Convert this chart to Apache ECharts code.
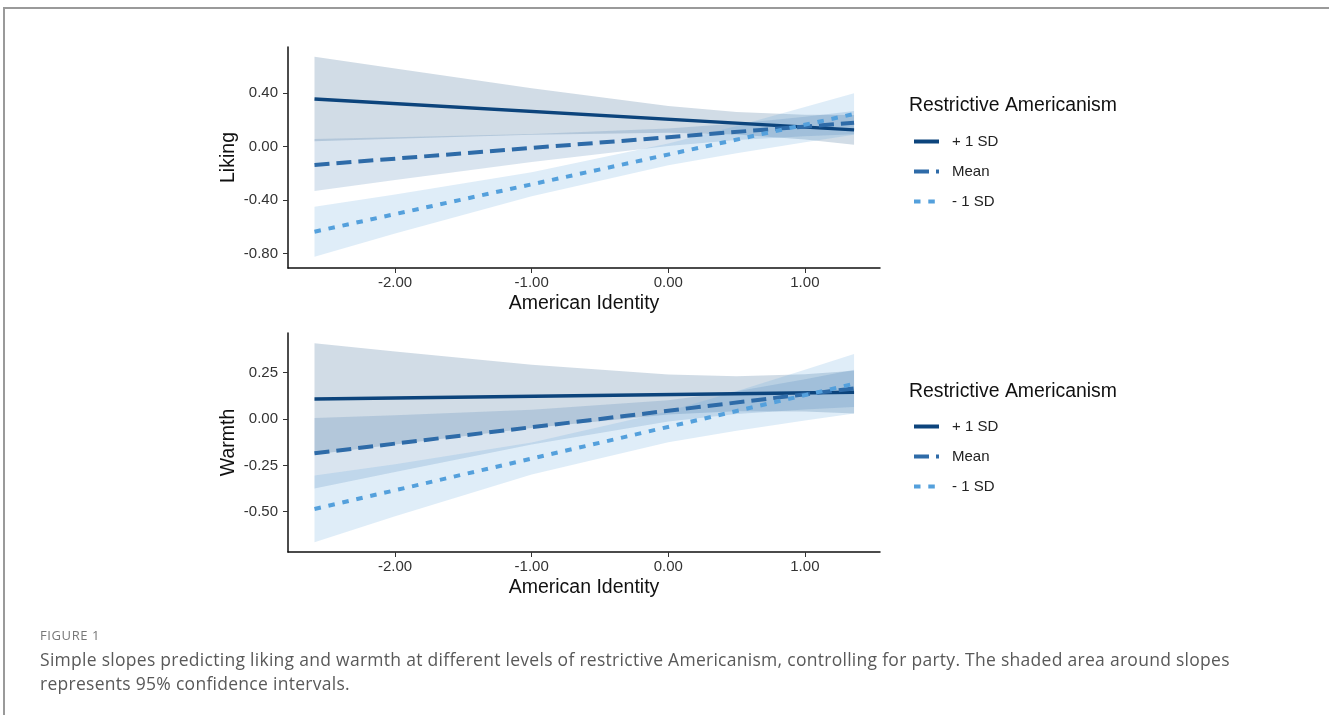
<!DOCTYPE html>
<html>
<head>
<meta charset="utf-8">
<script src="https://cdn.jsdelivr.net/npm/echarts@6/dist/echarts.min.js"></script>
<style>
  html, body { margin: 0; padding: 0; background: #fff; }
  #frame {
    position: absolute; left: 3px; top: 7px; width: 1340px; height: 720px;
    border-top: 2px solid #9a9a9a; border-left: 2px solid #9a9a9a;
  }
  #chart { position: absolute; left: 0; top: 0; width: 1329px; height: 715px; }
  .fig-label {
    position: absolute; left: 40px; top: 626px;
    font: 13px "Open Sans", "Noto Sans", sans-serif; color: #777; letter-spacing: 0.6px;
  }
  .fig-caption {
    position: absolute; left: 40px; top: 647px; white-space: nowrap;
    font: 17.5px/24px "Open Sans", "Noto Sans", sans-serif; color: #595959; letter-spacing: 0.28px;
  }
</style>
</head>
<body>
<div id="frame"></div>
<div id="chart"></div>
<div class="fig-label">FIGURE 1</div>
<div class="fig-caption">Simple slopes predicting liking and warmth at different levels of restrictive Americanism, controlling for party. The shaded area around slopes<br>represents 95% confidence intervals.</div>
<script>
// data
const groups = ["+ 1 SD", "Mean", "- 1 SD"];
const lineX = [-2.59, 1.36];
const bandX = [-2.59, -2, -1, 0, 0.5, 1, 1.36];

// Liking
const likingPlus = [0.357, 0.126];
const likingMean = [-0.137, 0.180];
const likingMinus = [-0.637, 0.245];
const likingPlusLo = [0.040, 0.059, 0.090, 0.105, 0.092, 0.054, 0.014];
const likingPlusHi = [0.674, 0.585, 0.438, 0.305, 0.260, 0.240, 0.238];
const likingMeanLo = [-0.332, -0.250, -0.114, 0.006, 0.050, 0.078, 0.093];
const likingMeanHi = [0.058, 0.071, 0.096, 0.136, 0.173, 0.224, 0.267];
const likingMinusLo = [-0.824, -0.651, -0.371, -0.140, -0.049, 0.033, 0.090];
const likingMinusHi = [-0.450, -0.359, -0.192, 0.023, 0.155, 0.297, 0.400];

// Warmth
const warmthPlus = [0.108, 0.144];
const warmthMean = [-0.185, 0.165];
const warmthMinus = [-0.485, 0.190];
const warmthPlusLo = [-0.192, -0.137, -0.049, 0.024, 0.042, 0.041, 0.029];
const warmthPlusHi = [0.408, 0.364, 0.293, 0.240, 0.230, 0.241, 0.260];
const warmthMeanLo = [-0.375, -0.286, -0.138, -0.013, 0.027, 0.051, 0.065];
const warmthMeanHi = [0.005, 0.020, 0.050, 0.101, 0.150, 0.214, 0.265];
const warmthMinusLo = [-0.665, -0.524, -0.299, -0.126, -0.064, -0.008, 0.030];
const warmthMinusHi = [-0.305, -0.244, -0.127, 0.042, 0.150, 0.266, 0.350];

const xTicks = [-2, -1, 0, 1];
const likingTicks = [-0.8, -0.4, 0, 0.4];
const warmthTicks = [-0.5, -0.25, 0, 0.25];

const colors = ["#0c447c", "#2e6ba8", "#54a0dc"];
const fills = ["rgba(12,68,124,0.19)", "rgba(46,107,168,0.18)", "rgba(84,160,220,0.19)"];
const dashes = ["solid", [15, 7], [6.5, 7.8]];
const widths = [3.5, 4, 4];
const font = "Liberation Sans";

let chart = echarts.init(document.getElementById("chart"));

function band(name, idx, lo, hi, color) {
  return {
    type: "custom",
    name: name + " CI",
    xAxisIndex: idx,
    yAxisIndex: idx,
    silent: true,
    z: 1,
    data: bandX.map((x, i) => [x, lo[i], hi[i]]),
    renderItem: (params, api) => {
      if (params.dataIndex !== 0) return null;
      let pts = [];
      for (let i = 0; i < bandX.length; i++) pts.push(api.coord([bandX[i], hi[i]]));
      for (let i = bandX.length - 1; i >= 0; i--) pts.push(api.coord([bandX[i], lo[i]]));
      return { type: "polygon", shape: { points: pts }, style: { fill: color } };
    }
  };
}

function slope(gi, idx, ys) {
  return {
    type: "line",
    name: groups[gi],
    xAxisIndex: idx,
    yAxisIndex: idx,
    z: 3,
    symbol: "none",
    showSymbol: false,
    data: lineX.map((x, i) => [x, ys[i]]),
    lineStyle: { color: colors[gi], width: widths[gi], type: dashes[gi], cap: "butt" },
    itemStyle: { color: colors[gi] }
  };
}

function xAxis(idx) {
  return {
    type: "value", gridIndex: idx, min: -2.784, max: 1.55,
    name: "American Identity", nameLocation: "middle", nameGap: 26,
    nameTextStyle: { fontFamily: font, fontSize: 19.5, color: "#111" },
    axisLine: { onZero: false, lineStyle: { color: "#111", width: 1.5 } },
    axisTick: { show: true, length: 5, customValues: xTicks, lineStyle: { color: "#333" } },
    axisLabel: { customValues: xTicks, margin: 7, fontFamily: font, fontSize: 15, color: "#333",
      formatter: v => v.toFixed(2) },
    splitLine: { show: false }
  };
}

function yAxis(idx, name, min, max, ticks) {
  return {
    type: "value", gridIndex: idx, min: min, max: max,
    name: name, nameLocation: "middle", nameGap: 49, nameRotate: 90,
    nameTextStyle: { fontFamily: font, fontSize: 19.5, color: "#111" },
    axisLine: { show: true, onZero: false, lineStyle: { color: "#111", width: 1.5 } },
    axisTick: { show: true, length: 5, customValues: ticks, lineStyle: { color: "#333" } },
    axisLabel: { customValues: ticks, margin: 10, fontFamily: font, fontSize: 15, color: "#333",
      formatter: v => v.toFixed(2) },
    splitLine: { show: false }
  };
}

function legend(top) {
  return {
    orient: "vertical", left: 912, top: top, padding: 0,
    itemWidth: 25, itemHeight: 14, itemGap: 15,
    selectedMode: false,
    data: groups,
    itemStyle: { opacity: 0, borderWidth: 0 },
    lineStyle: { width: 4 },
    textStyle: { fontFamily: font, fontSize: 15, color: "#222", padding: [0, 0, 0, 8] }
  };
}

let option = {
  animation: false,
  title: [
    { text: "Restrictive Americanism", left: 909, top: 96, padding: 0,
      textStyle: { fontFamily: font, fontSize: 19.4, fontWeight: "normal", color: "#111" } },
    { text: "Restrictive Americanism", left: 909, top: 382, padding: 0,
      textStyle: { fontFamily: font, fontSize: 19.4, fontWeight: "normal", color: "#111" } }
  ],
  legend: [legend(134), legend(419)],
  grid: [
    { left: 288, top: 47, width: 592, height: 221 },
    { left: 288, top: 333, width: 592, height: 219 }
  ],
  xAxis: [xAxis(0), xAxis(1)],
  yAxis: [
    yAxis(0, "Liking", -0.909, 0.747, likingTicks),
    yAxis(1, "Warmth", -0.717, 0.4636, warmthTicks)
  ],
  series: [
    band(groups[0], 0, likingPlusLo, likingPlusHi, fills[0]),
    band(groups[1], 0, likingMeanLo, likingMeanHi, fills[1]),
    band(groups[2], 0, likingMinusLo, likingMinusHi, fills[2]),
    band(groups[0], 1, warmthPlusLo, warmthPlusHi, fills[0]),
    band(groups[1], 1, warmthMeanLo, warmthMeanHi, fills[1]),
    band(groups[2], 1, warmthMinusLo, warmthMinusHi, fills[2]),
    slope(0, 0, likingPlus),
    slope(1, 0, likingMean),
    slope(2, 0, likingMinus),
    slope(0, 1, warmthPlus),
    slope(1, 1, warmthMean),
    slope(2, 1, warmthMinus)
  ]
};
chart.setOption(option);
</script>
</body>
</html>
